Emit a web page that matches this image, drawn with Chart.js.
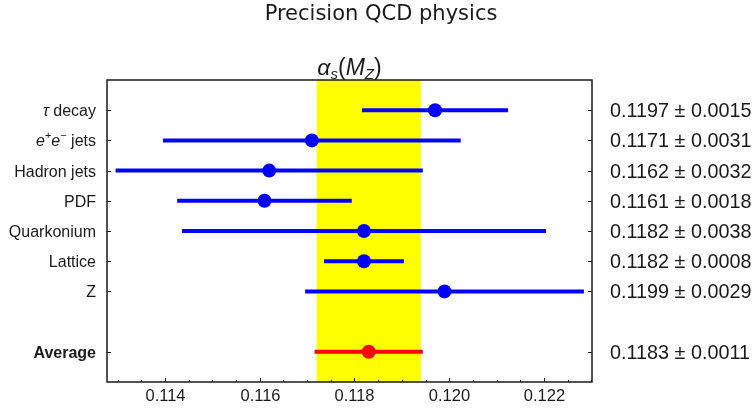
<!DOCTYPE html>
<html lang="en">
  <head>
    <meta charset="utf-8">
    <title>Precision QCD physics</title>
    <style> body {padding: 0; margin: 0; background: #fff;} </style>
    <script src="https://cdn.jsdelivr.net/npm/chart.js@4.4.0/dist/chart.umd.min.js"></script>
  </head>
  <body>
    <canvas id="qcdChart" width="756" height="411"></canvas>
    <script>
      // measurements, top to bottom (row 7 left empty before the average)
      var labels = ['tau decay', 'ee jets', 'Hadron jets', 'PDF', 'Quarkonium', 'Lattice', 'Z', 'Average'];
      var rows = [0, 1, 2, 3, 4, 5, 6, 8];
      var values = [0.1197, 0.1171, 0.1162, 0.1161, 0.1182, 0.1182, 0.1199, 0.1183];
      var errors = [0.0015, 0.0031, 0.0032, 0.0018, 0.0038, 0.0008, 0.0029, 0.0011];
      var xTicks = [0.114, 0.116, 0.118, 0.120, 0.122];
      var xTickLabels = ['0.114', '0.116', '0.118', '0.120', '0.122'];
      var xMinorStep = 0.0005;
      var avgIndex = 7;

      var FONT = '"Liberation Sans", Arial, sans-serif';
      var TEXT = '#1a1a1a';

      var datasets = [];
      // error bars
      for (var i = 0; i < values.length; i++) {
        datasets.push({
          data: [{x: values[i] - errors[i], y: rows[i]}, {x: values[i] + errors[i], y: rows[i]}],
          showLine: true,
          borderColor: i == avgIndex ? '#ff0000' : '#0000ff',
          borderWidth: 4,
          borderCapStyle: 'square',
          pointRadius: 0,
          order: 1
        });
      }
      // central values
      datasets.push({
        data: values.map(function (v, i) { return {x: v, y: rows[i]}; }),
        pointRadius: 7,
        pointBackgroundColor: values.map(function (v, i) { return i == avgIndex ? '#ff0000' : '#0000ff'; }),
        pointBorderWidth: 0,
        order: 0
      });
      // world average band
      var lo = values[avgIndex] - errors[avgIndex];
      var hi = values[avgIndex] + errors[avgIndex];
      datasets.push({
        data: [{x: lo, y: -1}, {x: hi, y: -1}, {x: hi, y: 9}, {x: lo, y: 9}],
        showLine: true,
        fill: 'shape',
        backgroundColor: '#ffff00',
        borderWidth: 0,
        pointRadius: 0,
        order: 5
      });

      // draw a line of mixed-style text pieces
      function drawRuns(ctx, runs, x, y, align) {
        var total = 0;
        runs.forEach(function (r) { ctx.font = r.font; total += ctx.measureText(r.t).width; });
        var cx = align == 'right' ? x - total : (align == 'center' ? x - total / 2 : x);
        ctx.textAlign = 'left';
        runs.forEach(function (r) {
          ctx.font = r.font;
          ctx.fillText(r.t, cx, y + (r.dy || 0));
          cx += ctx.measureText(r.t).width;
        });
      }

      function labelRuns(i) {
        var f = '16px ' + FONT, fi = 'italic 16px ' + FONT, fs = '11px ' + FONT;
        if (i == 0) return [{t: 'τ', font: fi}, {t: ' decay', font: f}];
        if (i == 1) return [{t: 'e', font: fi}, {t: '+', font: fs, dy: -6}, {t: 'e', font: fi}, {t: '−', font: fs, dy: -6}, {t: ' jets', font: f}];
        if (i == avgIndex) return [{t: labels[i], font: 'bold 16px ' + FONT}];
        return [{t: labels[i], font: f}];
      }

      var decor = {
        id: 'decor',
        afterDraw: function (chart) {
          var ctx = chart.ctx, a = chart.chartArea;
          var xs = chart.scales.x, ys = chart.scales.y;
          ctx.save();
          ctx.fillStyle = TEXT;
          ctx.strokeStyle = TEXT;
          ctx.textBaseline = 'middle';

          // title
          ctx.font = '21px "DejaVu Sans", sans-serif';
          ctx.textAlign = 'center';
          ctx.fillText('Precision QCD physics', 381, 15);

          // alpha_s(M_Z)
          ctx.textBaseline = 'alphabetic';
          drawRuns(ctx, [
            {t: 'α', font: 'italic 23px ' + FONT},
            {t: 's', font: 'italic 15px ' + FONT, dy: 4},
            {t: '(', font: '23px ' + FONT},
            {t: 'M', font: 'italic 23px ' + FONT},
            {t: 'Z', font: 'italic 15px ' + FONT, dy: 4},
            {t: ')', font: '23px ' + FONT}
          ], (a.left + a.right) / 2, 75, 'center');
          ctx.textBaseline = 'middle';

          // frame
          ctx.lineWidth = 1.5;
          ctx.strokeRect(a.left, a.top, a.right - a.left, a.bottom - a.top);

          // row ticks and labels
          ctx.lineWidth = 1;
          for (var i = 0; i < rows.length; i++) {
            var py = Math.round(ys.getPixelForValue(rows[i])) + 0.5;
            ctx.beginPath();
            ctx.moveTo(a.left, py); ctx.lineTo(a.left + 4, py);
            ctx.moveTo(a.right, py); ctx.lineTo(a.right - 4, py);
            ctx.stroke();
            drawRuns(ctx, labelRuns(i), a.left - 11, py + 1, 'right');
            ctx.font = '19.8px ' + FONT;
            ctx.textAlign = 'left';
            ctx.fillText(values[i].toFixed(4) + ' ± ' + errors[i].toFixed(4), a.right + 18, py + 1);
          }

          // x minor ticks
          var start = Math.ceil(xs.min / xMinorStep) * xMinorStep;
          for (var v = start; v <= xs.max; v += xMinorStep) {
            var px = Math.round(xs.getPixelForValue(v)) + 0.5;
            ctx.beginPath();
            ctx.moveTo(px, a.bottom); ctx.lineTo(px, a.bottom - 2);
            ctx.stroke();
          }
          // x major ticks and labels
          ctx.font = '16.5px ' + FONT;
          ctx.textAlign = 'center';
          xTicks.forEach(function (t, k) {
            var px = Math.round(xs.getPixelForValue(t)) + 0.5;
            ctx.beginPath();
            ctx.moveTo(px, a.bottom); ctx.lineTo(px, a.bottom - 4);
            ctx.stroke();
            ctx.fillText(xTickLabels[k], px, a.bottom + 14);
          });
          ctx.restore();
        }
      };

      new Chart(document.getElementById('qcdChart').getContext('2d'), {
        type: 'scatter',
        data: {datasets: datasets},
        options: {
          responsive: false,
          animation: false,
          devicePixelRatio: 1,
          layout: {padding: {left: 107, right: 164, top: 80, bottom: 29}},
          scales: {
            x: {type: 'linear', min: 0.112776, max: 0.123013, display: false},
            y: {type: 'linear', min: -1, max: 9, reverse: true, display: false}
          },
          plugins: {legend: {display: false}, tooltip: {enabled: false}}
        },
        plugins: [decor]
      });
    </script>
  </body>
</html>
